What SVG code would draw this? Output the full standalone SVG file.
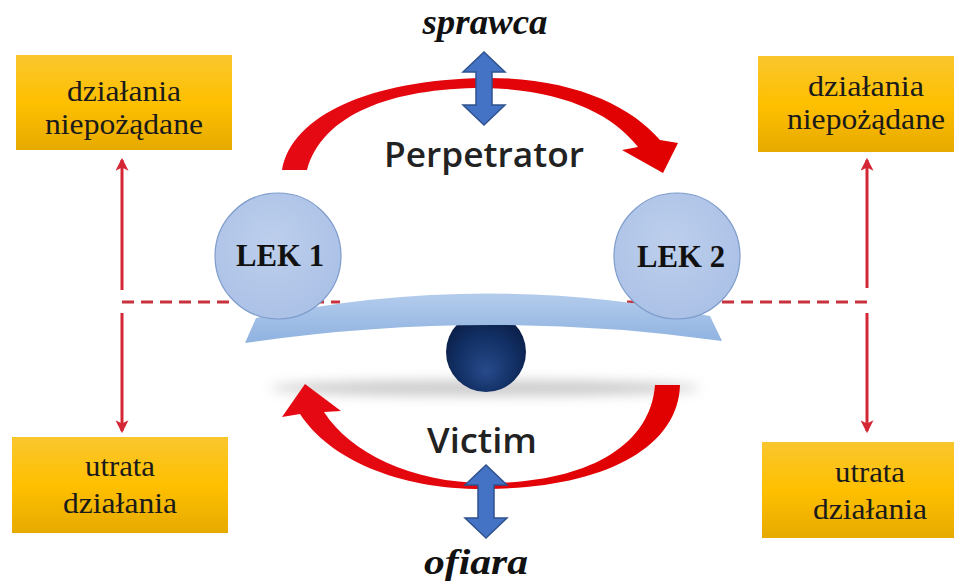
<svg xmlns="http://www.w3.org/2000/svg" width="964" height="581" viewBox="0 0 964 581">
<defs>
  <linearGradient id="gBox" x1="0" y1="0" x2="0" y2="1">
    <stop offset="0" stop-color="#F9C62E"/>
    <stop offset="0.5" stop-color="#FFC000"/>
    <stop offset="1" stop-color="#E6AA00"/>
  </linearGradient>
  <linearGradient id="gBeam" x1="0" y1="0" x2="0" y2="1">
    <stop offset="0" stop-color="#B3CCEC"/>
    <stop offset="1" stop-color="#8FB2E0"/>
  </linearGradient>
  <radialGradient id="gCircle" cx="0.45" cy="0.4" r="0.65">
    <stop offset="0" stop-color="#BDCFEC"/>
    <stop offset="1" stop-color="#AAC0E6"/>
  </radialGradient>
  <radialGradient id="gBall" cx="0.5" cy="0.6" r="0.6" fx="0.5" fy="0.75">
    <stop offset="0" stop-color="#274A8A"/>
    <stop offset="0.6" stop-color="#123065"/>
    <stop offset="1" stop-color="#0A1D45"/>
  </radialGradient>
  <linearGradient id="gRed" x1="0" y1="0" x2="1" y2="0">
    <stop offset="0" stop-color="#E50A14"/>
    <stop offset="1" stop-color="#E00000"/>
  </linearGradient>
  <filter id="blur8" x="-20%" y="-200%" width="140%" height="500%">
    <feGaussianBlur stdDeviation="6"/>
  </filter>
  <marker id="mHead" viewBox="0 0 12 12" refX="10" refY="6" markerWidth="13" markerHeight="13" markerUnits="userSpaceOnUse" orient="auto">
    <path d="M0,0 L12,6 L0,12 L3,6 Z" fill="#D42634"/>
  </marker>
  <style>
    .box { fill: url(#gBox); }
    .boxtxt { font-family: "Liberation Serif", "Times New Roman", serif; font-size: 29px; fill: #1a1a1a; text-anchor: middle; }
    .lek { font-family: "Liberation Serif", "Times New Roman", serif; font-size: 32px; font-weight: bold; fill: #111; text-anchor: middle; }
    .it { font-family: "Liberation Serif", "Times New Roman", serif; font-size: 36px; font-weight: bold; font-style: italic; fill: #111; text-anchor: middle; }
    .sans { font-family: "Open Sans", "Liberation Sans", sans-serif; font-size: 34px; font-weight: 600; fill: #222; text-anchor: middle; }
    .circ { fill: url(#gCircle); stroke: #7E9CCB; stroke-width: 1.2; }
    .redarc { fill: url(#gRed); }
    .blue { fill: #4472C4; stroke: #2F528F; stroke-width: 1.5; stroke-linejoin: miter; }
    .vline { stroke: #D42634; stroke-width: 3; fill: none; marker-end: url(#mHead); }
    .dash { stroke: #C8323C; stroke-width: 3; stroke-dasharray: 12 7; fill: none; }
  </style>
</defs>

<rect width="964" height="581" fill="#FFFFFF"/>

<!-- shadow under seesaw -->
<ellipse cx="485" cy="388" rx="215" ry="8" fill="#BFBFBF" filter="url(#blur8)" opacity="0.8"/>

<!-- connectors -->
<g id="connectors">
  <line class="dash" x1="122" y1="302" x2="340" y2="302"/>
  <line class="dash" x1="867" y1="302" x2="620" y2="302"/>
  <line class="vline" x1="122" y1="290" x2="122" y2="160"/>
  <line class="vline" x1="122" y1="313" x2="122" y2="431"/>
  <line class="vline" x1="867" y1="288" x2="867" y2="160"/>
  <line class="vline" x1="867" y1="313" x2="867" y2="431"/>
</g>

<!-- seesaw -->
<g id="ball">
  <circle cx="486" cy="352" r="40" fill="url(#gBall)"/>
</g>
<g id="beam">
  <path d="M245,343 L256,318 Q484,270 710,316 L722,341 Q484,308 245,343 Z" fill="url(#gBeam)"/>
</g>

<g id="node-lek1">
  <circle class="circ" cx="278" cy="256" r="63"/>
  <text class="lek" x="280" y="266" textLength="88" lengthAdjust="spacingAndGlyphs">LEK 1</text>
</g>
<g id="node-lek2">
  <circle class="circ" cx="677" cy="256" r="63"/>
  <text class="lek" x="681" y="267" textLength="88" lengthAdjust="spacingAndGlyphs">LEK 2</text>
</g>

<!-- red cycle arrows -->
<g id="cycle-arrows">
  <path class="redarc" d="M282,170 C292,115 370,80 484,78 C570,77 630,105 660,140 L678,143 L663,173 L622,150 L638,147 C612,113 560,89 484,88 C390,88 322,115 307,170 Z"/>
  <path class="redarc" d="M655,385 L680,385 C678,450 600,488 487,489 C400,490 330,460 300,414 L282,417 L305,384 L341,411 L324,412 C350,452 410,483 487,483 C580,483 650,450 655,385 Z"/>
</g>

<!-- blue double arrows -->
<g id="arrow-sprawca">
  <polygon class="blue" points="484,52 505,72 492,72 492,105 505,105 484,125 463,105 476,105 476,72 463,72"/>
</g>
<g id="arrow-ofiara">
  <polygon class="blue" points="486,465 507,485 494,485 494,518 507,518 486,538 465,518 478,518 478,485 465,485"/>
</g>

<g id="node-sprawca"><text class="it" x="485" y="34" textLength="125" lengthAdjust="spacingAndGlyphs">sprawca</text></g>
<g id="node-ofiara"><text class="it" x="476" y="574" textLength="104" lengthAdjust="spacingAndGlyphs">ofiara</text></g>
<g id="node-perpetrator"><text class="sans" x="484" y="167" textLength="200" lengthAdjust="spacingAndGlyphs">Perpetrator</text></g>
<g id="node-victim"><text class="sans" x="482" y="453" textLength="110" lengthAdjust="spacingAndGlyphs">Victim</text></g>

<g id="node-box-tl">
  <rect class="box" x="16" y="55" width="216" height="95"/>
  <text class="boxtxt" x="124" y="101" textLength="114" lengthAdjust="spacingAndGlyphs">działania</text>
  <text class="boxtxt" x="124" y="134" textLength="158" lengthAdjust="spacingAndGlyphs">niepożądane</text>
</g>
<g id="node-box-tr">
  <rect class="box" x="758" y="56" width="196" height="96"/>
  <text class="boxtxt" x="866" y="96" textLength="116" lengthAdjust="spacingAndGlyphs">działania</text>
  <text class="boxtxt" x="866" y="129" textLength="158" lengthAdjust="spacingAndGlyphs">niepożądane</text>
</g>
<g id="node-box-bl">
  <rect class="box" x="12" y="437" width="216" height="96"/>
  <text class="boxtxt" x="120" y="476" textLength="70" lengthAdjust="spacingAndGlyphs">utrata</text>
  <text class="boxtxt" x="120" y="513" textLength="114" lengthAdjust="spacingAndGlyphs">działania</text>
</g>
<g id="node-box-br">
  <rect class="box" x="762" y="442" width="192" height="96"/>
  <text class="boxtxt" x="870" y="482" textLength="70" lengthAdjust="spacingAndGlyphs">utrata</text>
  <text class="boxtxt" x="870" y="519" textLength="114" lengthAdjust="spacingAndGlyphs">działania</text>
</g>
</svg>
